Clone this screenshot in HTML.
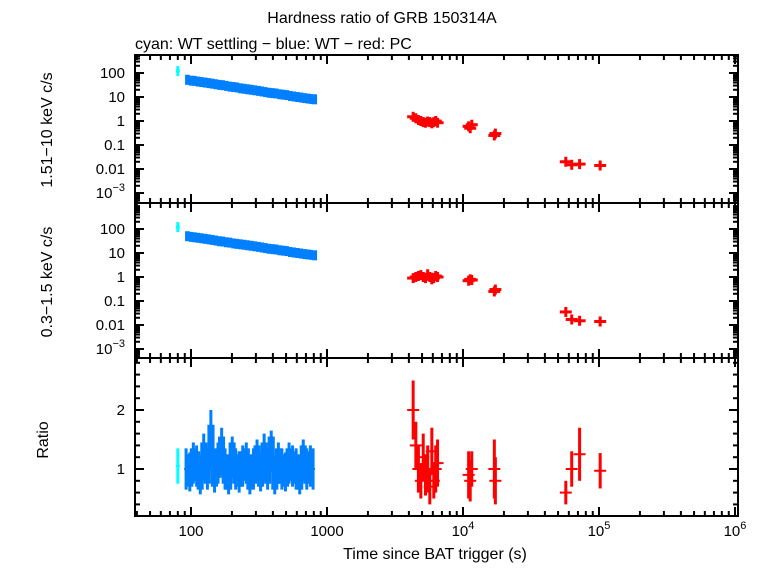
<!DOCTYPE html>
<html><head><meta charset="utf-8"><style>
body{margin:0;background:#fff;}
svg text{font-family:"Liberation Sans",sans-serif;fill:#000;}
</style></head><body>
<svg id="c" width="763" height="566" xmlns="http://www.w3.org/2000/svg">
<text x="382" y="23" font-size="16" text-anchor="middle">Hardness ratio of GRB 150314A</text>
<text x="135" y="49" font-size="16">cyan: WT settling − blue: WT − red: PC</text>
<text x="435" y="559" font-size="16" text-anchor="middle">Time since BAT trigger (s)</text>
<text transform="translate(52,130) rotate(-90)" font-size="16" text-anchor="middle">1.51−10 keV c/s</text>
<text transform="translate(52,282) rotate(-90)" font-size="16" text-anchor="middle">0.3−1.5 keV c/s</text>
<text transform="translate(48,440) rotate(-90)" font-size="16" text-anchor="middle">Ratio</text>
</svg>
<script>
const blueT=[92,98,104,110,117,124,132,140,149,158,168,178,189,201,213,226,240,255,271,288,306,325,345,366,389,413,439,466,495,526,558,593,630,669,710,755,790];
const blueHard=[52,48,47,44,42,40,38,36,34,32,31,29,27,26,25,23,22,21,20,19,18,17,16,15,14.5,14,13,12.5,12,11,10.5,10,9.5,9,8.6,8.2,8];
const blueSoft=[50,47,45,43,41,39,37,35,33,31,30,28,27,25,24,23,22,21,20,19,18,17,16,15,14.5,14,13,12.5,12,11,10.5,10,9.5,9,8.7,8.3,8];
const blueRatio=[1.0,0.95,1.1,1.05,0.9,1.2,1.0,1.5,0.95,1.1,1.3,1.0,0.9,1.2,1.0,0.95,1.05,1.1,0.9,1.0,1.15,0.95,1.2,1.0,1.3,0.9,1.1,1.0,0.95,1.1,1.05,1.0,0.9,1.15,1.0,1.05,1.0];
const blueRatioErr=[0.35,0.33,0.35,0.35,0.33,0.4,0.35,0.5,0.35,0.35,0.4,0.35,0.33,0.35,0.35,0.35,0.35,0.35,0.33,0.35,0.35,0.33,0.4,0.35,0.35,0.33,0.35,0.35,0.33,0.35,0.35,0.35,0.33,0.35,0.35,0.35,0.35];
const cyanT=[80];const cyanHard=[120];const cyanSoft=[120];const cyanRatio=[1.05];const cyanRatioErr=[0.3];
const redT=[4300,4500,4700,4900,5100,5300,5500,5700,5900,6100,6300,6500,11000,11300,11600,17000,17300,57000,63000,72000,102000];
const redHard=[1.5,1.3,1.1,1.0,0.9,0.85,0.95,0.9,0.8,0.9,1.0,0.85,0.6,0.5,0.7,0.25,0.3,0.02,0.015,0.016,0.014];
const redSoft=[0.9,1.0,1.1,1.2,1.0,0.9,1.3,1.0,0.8,0.9,1.1,1.0,0.7,0.8,0.75,0.25,0.3,0.035,0.017,0.015,0.014];
const redRatio=[2.0,1.4,1.0,0.8,1.2,0.9,1.0,0.7,1.3,0.8,1.0,1.1,0.9,0.8,1.0,1.0,0.8,0.6,1.0,1.25,0.97];
const redRatioErr=[0.5,0.4,0.4,0.3,0.4,0.35,0.4,0.3,0.4,0.3,0.4,0.4,0.4,0.35,0.3,0.5,0.4,0.2,0.3,0.45,0.3];
const xTickLabels=["100","1000","10^4","10^5","10^6"];
const rateTickLabels=["100","10","1","0.1","0.01","10^-3"];
const ratioTickLabels=["1","2"];

const NS="http://www.w3.org/2000/svg",svg=document.getElementById('c');
const X0=135,X1=738;
const xs=t=>191+(Math.log10(t)-2)*136;
const panels=[{top:55,bot:203,y100:73,dec:24},{top:203,bot:358,y100:229,dec:24}];
const yRate=(p,v)=>p.y100+(2-Math.log10(v))*p.dec;
const yRatio=v=>469-(v-1)*59;
function el(tag,attrs,name,parent){const e=document.createElementNS(NS,tag);for(const k in attrs)e.setAttribute(k,attrs[k]);


(parent||svg).appendChild(e);return e;}
function txt(x,y,s,anchor,name,size){const e=el('text',{x:x,y:y,'font-size':size||15,'text-anchor':anchor},name);
const m=s.match(/^10\^(.+)$/);if(m){e.textContent='10';const sp=document.createElementNS(NS,'tspan');sp.setAttribute('dy','-7');sp.setAttribute('font-size','11');sp.textContent=m[1].replace('-','−');e.appendChild(sp);}else e.textContent=s;return e;}
const frames=[[55,203],[203,358],[358,516]];
frames.forEach((f,i)=>{el('rect',{x:X0,y:f[0],width:X1-X0,height:f[1]-f[0],fill:'none',stroke:'#000','stroke-width':2},'panel-frame-'+i);
 for(let d=1;d<=6;d++)for(let m=1;m<10;m++){const t=m*Math.pow(10,d);const x=xs(t);if(x<X0||x>X1)continue;const L=m==1?9:5;
  el('line',{x1:x,x2:x,y1:f[0],y2:f[0]+L,stroke:'#000','stroke-width':2},'x-tick');
  el('line',{x1:x,x2:x,y1:f[1],y2:f[1]-L,stroke:'#000','stroke-width':2},'x-tick');}});
xTickLabels.forEach((s,i)=>txt(xs(Math.pow(10,i+2)),536,s,'middle','x-tick-label'));
panels.forEach((p,pi)=>{for(let e=-4;e<=2;e++){for(let m=1;m<10;m++){const v=m*Math.pow(10,e);const y=yRate(p,v);if(y<p.top||y>p.bot)continue;const L=m==1?9:5;
 el('line',{x1:X0,x2:X0+L,y1:y,y2:y,stroke:'#000','stroke-width':2},'y-tick');el('line',{x1:X1,x2:X1-L,y1:y,y2:y,stroke:'#000','stroke-width':2},'y-tick');}}
 rateTickLabels.forEach((s,k)=>txt(X0-10,yRate(p,Math.pow(10,2-k))+5,s,'end','rate-tick-label'));});
for(let v=0.4;v<2.9;v+=0.2){const y=yRatio(v);const maj=Math.abs(v-1)<0.01||Math.abs(v-2)<0.01;const L=maj?9:5;
 el('line',{x1:X0,x2:X0+L,y1:y,y2:y,stroke:'#000','stroke-width':2},'ratio-tick');el('line',{x1:X1,x2:X1-L,y1:y,y2:y,stroke:'#000','stroke-width':2},'ratio-tick');}
ratioTickLabels.forEach((s,i)=>txt(X0-10,yRatio(i+1)+5,s,'end','ratio-tick-label'));
function series(T,H,S,R,RE,col,name,wide,band){
 T.forEach((t,i)=>{const x=xs(t);const x2=i<T.length-1?xs(T[i+1]):x+4;const hw=wide?6:2;
  [[panels[0],H[i]],[panels[1],S[i]]].forEach(([p,v],k)=>{const y=yRate(p,v);
   if(band){el('rect',{x:x-1,y:y-5,width:Math.max(x2-x+1,3),height:10,fill:col},name+'-rate-'+k);}
   else{el('line',{x1:x,x2:x,y1:y-5,y2:y+5,stroke:col,'stroke-width':3},name+'-rate-'+k);el('line',{x1:x-hw,x2:x+hw,y1:y,y2:y,stroke:col,'stroke-width':3},name+'-rate-'+k);}});
  el('line',{x1:x,x2:x,y1:yRatio(R[i]+RE[i]),y2:yRatio(R[i]-RE[i]),stroke:col,'stroke-width':3},name+'-ratio-bar');
  el('line',{x1:x-hw,x2:x+hw,y1:yRatio(R[i]),y2:yRatio(R[i]),stroke:col,'stroke-width':2},name+'-ratio-point');
  if(band&&i<T.length-1)el('rect',{x:x,y:yRatio(Math.max(R[i],R[i+1])+0.25),width:x2-x,height:59*(Math.abs(R[i]-R[i+1])+0.5),fill:col},name+'-ratio-fill');});}
series(cyanT,cyanHard,cyanSoft,cyanRatio,cyanRatioErr,'#00ffff','cyan-wt-settling',false,false);
series(blueT,blueHard,blueSoft,blueRatio,blueRatioErr,'#0080ff','blue-wt',false,true);
series(redT,redHard,redSoft,redRatio,redRatioErr,'#ff0000','red-pc',true,false);
</script>
</body></html>
